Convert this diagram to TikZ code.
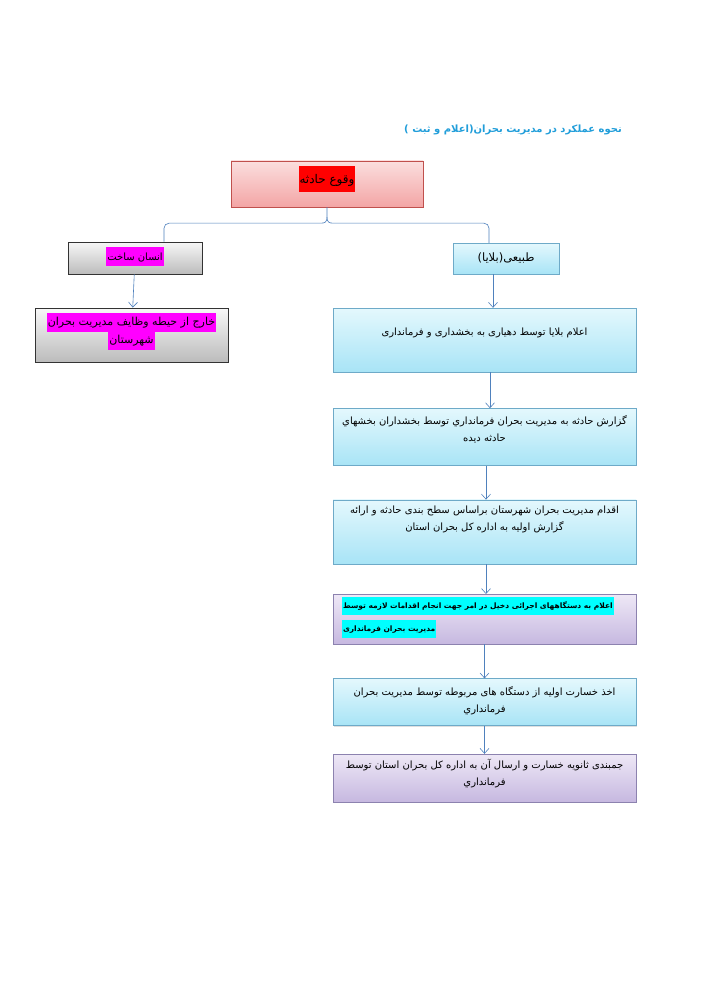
\documentclass[tikz,border=0pt]{standalone}
\usepackage{fontspec}
\usepackage{xcolor}
\usepackage{tikz}
\usetikzlibrary{arrows.meta, positioning, calc, shadows}
\newfontfamily\arabicfont[Script=Arabic]{DejaVu Sans}
\TeXXeTstate=1
\definecolor{titleblue}{RGB}{33,158,218}
\definecolor{linkblue}{RGB}{79,129,189}
\definecolor{pinktop}{RGB}{251,222,222}
\definecolor{pinkbot}{RGB}{243,165,165}
\definecolor{pinkline}{RGB}{192,80,77}
\definecolor{graytop}{RGB}{247,247,247}
\definecolor{graybot}{RGB}{188,188,188}
\definecolor{cyantop}{RGB}{228,248,253}
\definecolor{cyanbot}{RGB}{168,228,246}
\definecolor{cyanline}{RGB}{110,170,200}
\definecolor{purpletop}{RGB}{238,232,246}
\definecolor{purplebot}{RGB}{198,184,224}
\definecolor{purpleline}{RGB}{140,130,175}
\definecolor{hlred}{RGB}{255,0,0}
\definecolor{hlmagenta}{RGB}{255,0,255}
\definecolor{hlcyan}{RGB}{0,255,255}
\newcommand{\marktext}[2]{\colorbox{#1}{\strut #2}}
\setlength{\fboxsep}{1pt}

\begin{document}
\begin{tikzpicture}[
        x=1pt, y=-1pt,
        incident/.style={rectangle, draw=pinkline, top color=pinktop, bottom color=pinkbot, drop shadow={shadow xshift=1pt, shadow yshift=-1pt, opacity=0.25}, minimum width=192pt, minimum height=46pt},
        manmade/.style={rectangle, draw=black!80, thick, top color=graytop, bottom color=graybot, minimum width=134pt, minimum height=32pt},
        natural/.style={rectangle, draw=cyanline, top color=cyantop, bottom color=cyanbot, drop shadow={shadow xshift=1pt, shadow yshift=-1pt, opacity=0.25}, minimum width=303pt},
        notify/.style={rectangle, draw=purpleline, top color=purpletop, bottom color=purplebot, drop shadow={shadow xshift=1pt, shadow yshift=-1pt, opacity=0.25}, minimum width=303pt},
        boxtext/.style={align=center, font=\arabicfont\fontsize{10}{17}\selectfont, inner sep=0pt},
        flow/.style={draw=linkblue, line width=0.6pt, -{Straight Barb[length=5pt, width=9pt]}},
        link/.style={draw=linkblue, line width=0.6pt}
    ]
        % Page
        \fill[white] (0,0) rectangle (706,1000);
        \useasboundingbox (0,0) rectangle (706,1000);

        % Title
        \node[anchor=east, inner sep=0pt, text=titleblue, font=\arabicfont\bfseries\fontsize{10}{12}\selectfont] (title) at (622,130) {\beginR نحوه عملکرد در مدیریت بحران(اعلام و ثبت )\endR};

        % Incident
        \node[incident] (hadeth) at (327,184) {};
        \node[boxtext, font=\arabicfont\fontsize{12}{24}\selectfont] (hadethtext) at ($(hadeth)+(0,-5)$) {\marktext{hlred}{\beginR وقوع حادثه\endR}};

        % Man made branch
        \node[manmade] (insan) at (135,258) {};
        \node[boxtext] (insantext) at ($(insan)+(0,-1)$) {\marktext{hlmagenta}{\beginR انسان ساخت\endR}};
        \node[manmade, minimum width=193pt, minimum height=54pt] (kharej) at (131.5,335) {};
        \node[boxtext, font=\arabicfont\fontsize{11}{17}\selectfont] (kharejtext) at ($(kharej)+(0,-4)$) {\marktext{hlmagenta}{\beginR خارج از حیطه وظایف مدیریت بحران\endR}\\[-2pt]\marktext{hlmagenta}{\beginR شهرستان\endR}};

        % Natural branch
        \node[natural, minimum width=106pt, minimum height=31pt] (tabiei) at (506,258.5) {};
        \node[boxtext, font=\arabicfont\fontsize{11.5}{17}\selectfont] (tabieitext) at ($(tabiei)+(0,-1)$) {\beginR طبیعی(بلایا)\endR};
        \node[natural, minimum height=64pt] (elam) at (484.5,340) {};
        \node[natural, minimum height=57pt, below=36pt of elam] (gozaresh) {};
        \node[natural, minimum height=64pt, below=34pt of gozaresh] (eqdam) {};
        \node[notify, minimum height=50pt, below=30pt of eqdam] (dastgah) {};
        \node[natural, minimum height=47pt, below=34pt of dastgah] (khesarat) {};
        \node[notify, minimum height=48pt, below=28pt of khesarat] (jambandi) {};

        % Step texts
        \node[boxtext] (elamtext) at ($(elam)+(0,-7)$) {\beginR اعلام بلایا توسط دهیاری به بخشداری و فرمانداری\endR};
        \node[boxtext] (gozareshtext) at ($(gozaresh)+(0,-7.5)$) {\beginR گزارش حادثه به مدیریت بحران فرمانداري توسط بخشداران بخشهاي\endR\\\beginR حادثه دیده\endR};
        \node[boxtext] (eqdamtext) at ($(eqdam)+(0,-12.5)$) {\beginR اقدام مدیریت بحران شهرستان  براساس سطح بندی حادثه و ارائه\endR\\\beginR گزارش اولیه به اداره کل بحران استان\endR};
        \node[boxtext, align=left, anchor=west, font=\arabicfont\bfseries\fontsize{7.5}{16}\selectfont] (dastgahtext) at ($(dastgah.west)+(9,-2)$) {\marktext{hlcyan}{\beginR اعلام به دستگاههای اجرائی دخیل در امر جهت انجام اقدامات لازمه توسط\endR}\\[4pt]\marktext{hlcyan}{\beginR مدیریت بحران فرمانداری\endR}};
        \node[boxtext] (khesarattext) at ($(khesarat)+(0,-1.5)$) {\beginR اخذ خسارت اولیه از دستگاه های مربوطه توسط مدیریت بحران\endR\\\beginR فرمانداري\endR};
        \node[boxtext] (jambanditext) at ($(jambandi)+(0,-4)$) {\beginR جمبندی ثانویه خسارت و ارسال آن به اداره کل بحران استان  توسط\endR\\\beginR فرمانداري\endR};

        % Brace from incident
        \coordinate (cusp) at ($(hadeth.south)+(0,10)$);
        \draw[link] (hadeth.south) -- (cusp) .. controls ($(cusp)+(0,5)$) and ($(cusp)+(-2,6)$) .. ($(cusp)+(-7,6)$) [rounded corners=5pt] -| ([xshift=29pt]insan.north);
        \draw[link] (cusp) .. controls ($(cusp)+(0,5)$) and ($(cusp)+(2,6)$) .. ($(cusp)+(7,6)$) [rounded corners=5pt] -| ([xshift=-17pt]tabiei.north);

        % Arrows
        \draw[flow] (insan) -- (kharej);
        \draw[flow] ([xshift=-13pt]tabiei.south) -- ([xshift=8.5pt]elam.north);
        \draw[flow] ([xshift=5.5pt]elam.south) -- ([xshift=5.5pt]gozaresh.north);
        \draw[flow] ([xshift=1.5pt]gozaresh.south) -- ([xshift=1.5pt]eqdam.north);
        \draw[flow] ([xshift=1.5pt]eqdam.south) -- ([xshift=1.5pt]dastgah.north);
        \draw[flow] (dastgah) -- (khesarat);
        \draw[flow] (khesarat) -- (jambandi);
    \end{tikzpicture}
\end{document}
